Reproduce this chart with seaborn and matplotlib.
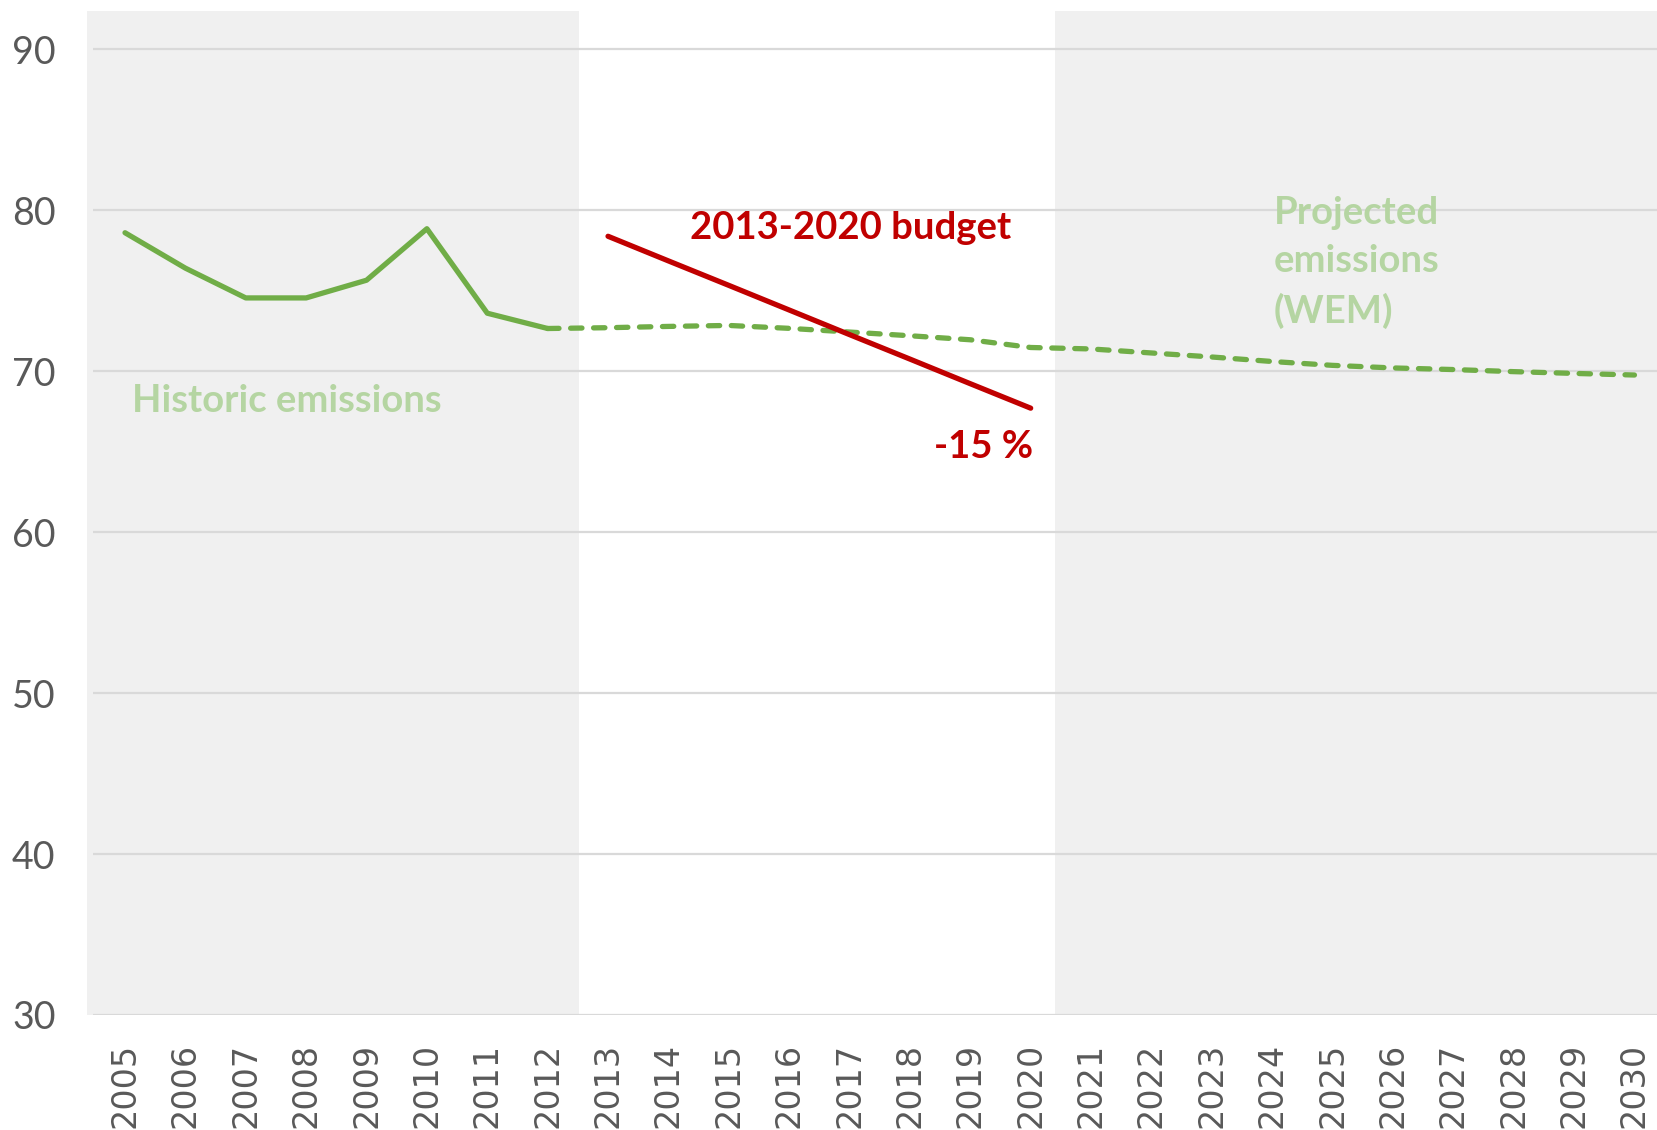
import numpy as np
import pandas as pd
import seaborn as sns
import matplotlib.pyplot as plt

# DATA
hist_years = [2005, 2006, 2007, 2008, 2009, 2010, 2011, 2012]
hist_values = [78.6, 76.4, 74.55, 74.55, 75.65, 78.85, 73.6, 72.65]

proj_years = list(range(2012, 2031))
proj_values = [72.65, 72.7, 72.78, 72.84, 72.66, 72.43, 72.2, 71.95, 71.47, 71.38,
               71.13, 70.88, 70.6, 70.36, 70.2, 70.1, 69.97, 69.86, 69.76]

budget_years = list(range(2013, 2021))
budget_values = [78.38, 76.85, 75.33, 73.8, 72.27, 70.75, 69.22, 67.7]

year_labels = [str(y) for y in range(2005, 2031)]
y_ticks = [30, 40, 50, 60, 70, 80, 90]

hist_df = pd.DataFrame({"year": hist_years, "value": hist_values})
proj_df = pd.DataFrame({"year": proj_years, "value": proj_values})
budget_df = pd.DataFrame({"year": budget_years, "value": budget_values})

# STYLE
sns.set_style("white")
plt.rcParams["font.family"] = ["Lato", "DejaVu Sans"]

GREEN = "#70AD47"
LIGHT_GREEN = "#B5D5A2"
RED = "#C00000"
GREY_TXT = "#595959"

fig = plt.figure(figsize=(16.58, 11.3), dpi=100)
ax = fig.add_axes([0.0561, 0.1018, 0.9439, 0.8888])

# shaded periods
ax.axvspan(2004.37, 2012.52, ymin=0, ymax=1, color="#F0F0F0", zorder=0, clip_on=False, lw=0)
ax.axvspan(2020.40, 2031, ymin=0, ymax=1, color="#F0F0F0", zorder=0, lw=0)

# gridlines
for t in y_ticks:
    ax.axhline(t, color="#D9D9D9", lw=1.6, zorder=1)

sns.lineplot(data=hist_df, x="year", y="value", ax=ax, color=GREEN, lw=3.8,
             solid_capstyle="round", solid_joinstyle="round", zorder=3)
sns.lineplot(data=proj_df, x="year", y="value", ax=ax, color=GREEN, lw=3.8,
             linestyle=(0, (2.15, 2.2)), dash_capstyle="round", zorder=3)
sns.lineplot(data=budget_df, x="year", y="value", ax=ax, color=RED, lw=3.8,
             solid_capstyle="round", zorder=4)

ax.set_xlim(2004.47, 2030.39)
ax.set_ylim(30, 92.4)
ax.set_yticks(y_ticks)
ax.set_yticklabels([str(t) for t in y_ticks], fontsize=27, color=GREY_TXT)
ax.set_xticks(range(2005, 2031))
ax.set_xticklabels(year_labels, rotation=90, fontsize=24, color=GREY_TXT,
                   family="DejaVu Sans")
ax.tick_params(axis="y", length=0, pad=27)
ax.tick_params(axis="x", length=0, pad=20)
ax.set_xlabel("")
ax.set_ylabel("")
for s in ax.spines.values():
    s.set_visible(False)

# annotations
ax.text(2017.02, 78.89, "2013-2020 budget", color=RED, fontsize=27.5,
        fontweight="bold", ha="center", va="center")
ax.text(2020.04, 65.29, "-15 %", color=RED, fontsize=27.5,
        fontweight="bold", ha="right", va="center")
ax.text(2005.12, 68.12, "Historic emissions", color=LIGHT_GREEN, fontsize=27.5,
        fontweight="bold", ha="left", va="center")
ax.text(2024.03, 80.9, "Projected\nemissions\n(WEM)", color=LIGHT_GREEN,
        fontsize=27.5, fontweight="bold", ha="left", va="top", linespacing=1.5)

fig.savefig("out.png", dpi=100)
